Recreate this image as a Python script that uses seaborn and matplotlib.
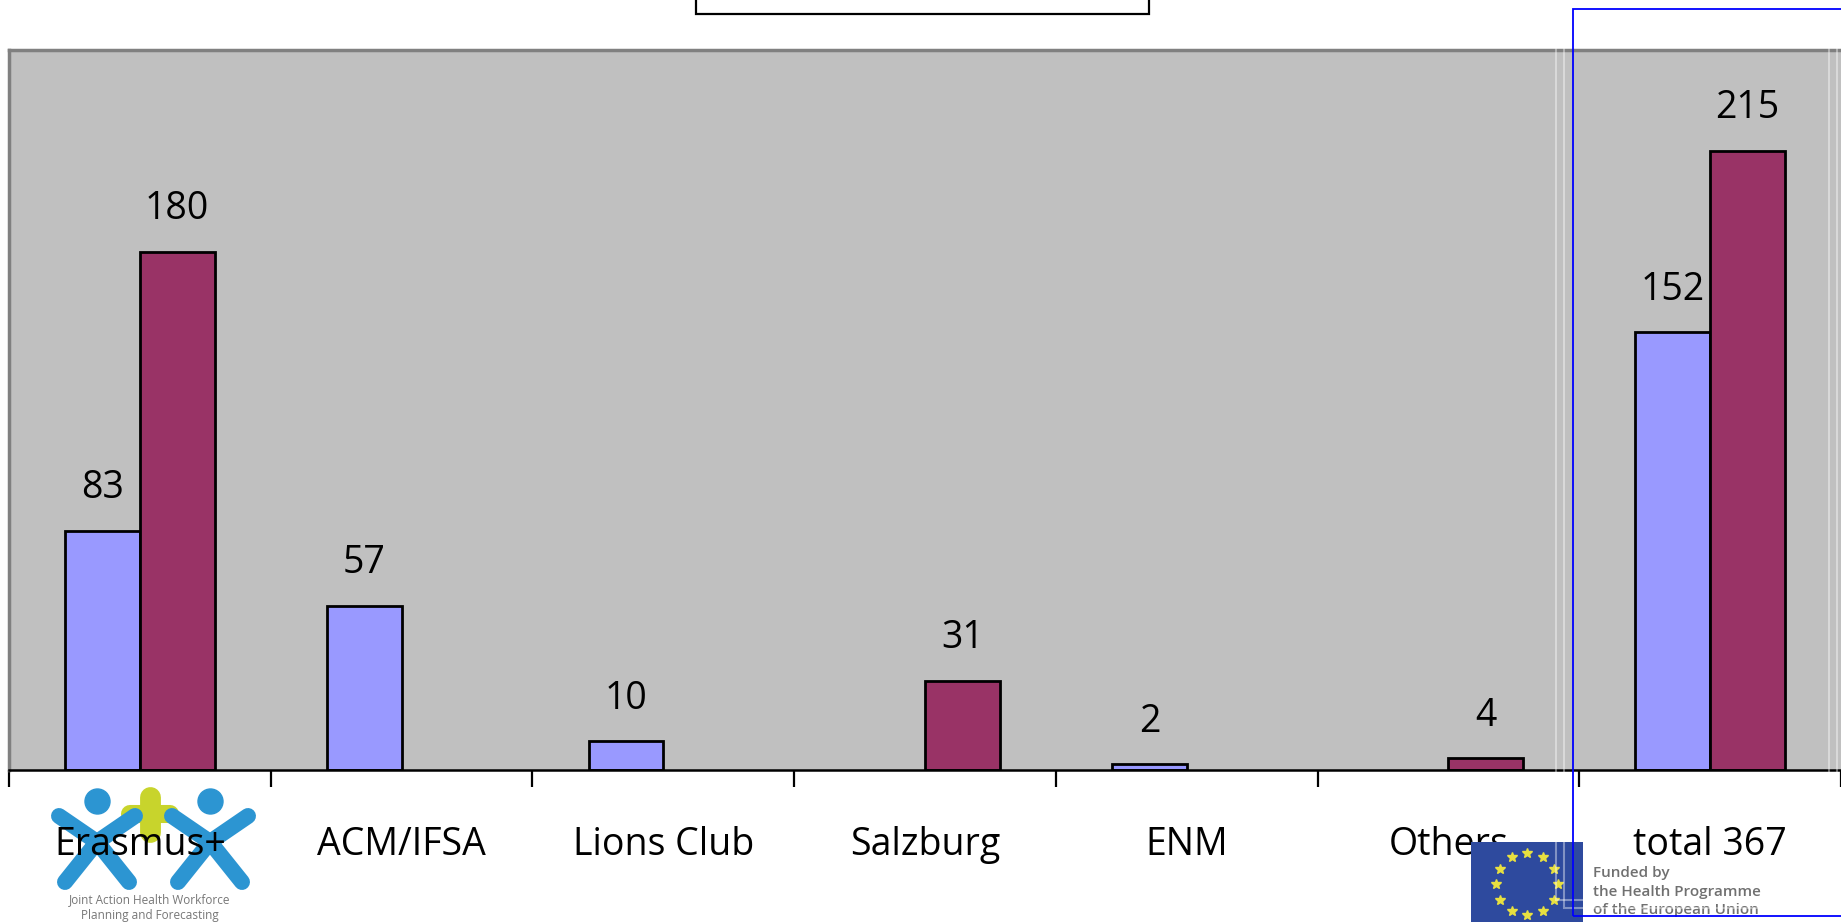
import numpy as np
import pandas as pd
import matplotlib
matplotlib.use("Agg")
import matplotlib.pyplot as plt
import seaborn as sns
from matplotlib.patches import Rectangle
from matplotlib.lines import Line2D

categories = ["Erasmus+", "ACM/IFSA", "Lions Club", "Salzburg", "ENM", "Others", "total 367"]
series_a = [83, 57, 10, 0, 2, 0, 152]
series_b = [180, 0, 0, 31, 0, 4, 215]
series_names = ["Series 1", "Series 2"]
colors = ["#9999FF", "#993366"]

df = pd.DataFrame({
    "category": categories * 2,
    "series": [series_names[0]] * len(categories) + [series_names[1]] * len(categories),
    "value": series_a + series_b,
})
# empty slots keep their place in the group, Excel style
df = df[df["value"] > 0]

sns.set_style("white")
plt.rcParams["font.family"] = ["Open Sans", "DejaVu Sans"]
plt.rcParams["text.color"] = "black"
plt.rcParams["xtick.color"] = "black"

W, H = 1841, 922
fig = plt.figure(figsize=(W / 100, H / 100), dpi=100)


def px(x, y):
    return x / W, 1 - y / H


def fig_line(pts, **kw):
    xs = [px(x, y)[0] for x, y in pts]
    ys = [px(x, y)[1] for x, y in pts]
    fig.add_artist(Line2D(xs, ys, transform=fig.transFigure, **kw))


def fig_rect(x0, y0, x1, y1, **kw):
    a, b = px(x0, y1)
    c, d = px(x1, y0)
    fig.add_artist(Rectangle((a, b), c - a, d - b, transform=fig.transFigure, **kw))


ax_left, ax_top, ax_bottom = 9, 50, 770
ax = fig.add_axes([ax_left / W, 1 - ax_bottom / H, (W - ax_left) / W, (ax_bottom - ax_top) / H])
ax.set_facecolor("#C0C0C0")

sns.barplot(data=df, x="category", y="value", hue="series", order=categories,
            hue_order=series_names, palette=colors, width=0.571, gap=0,
            edgecolor="black", linewidth=2, saturation=1, legend=False, ax=ax)

for cont in ax.containers:
    ax.bar_label(cont, fmt="%g", padding=17, fontsize=27, color="black")

ax.set_ylim(0, 250)
ax.set_xlim(-0.5, len(categories) - 0.5)
ax.set_yticks([])
ax.set_xlabel("")
ax.set_ylabel("")

# ticks on category boundaries, labels centred
ax.set_xticks(np.arange(-0.5, len(categories), 1.0))
ax.set_xticklabels([])
ax.set_xticks(np.arange(len(categories)), minor=True)
ax.set_xticklabels(categories, minor=True, fontsize=27, color="black")
ax.tick_params(axis="x", which="major", bottom=True, direction="out", length=12.5,
               width=1.6, color="black")
ax.tick_params(axis="x", which="minor", bottom=True, length=0, pad=40)

ax.spines["bottom"].set_color("black")
ax.spines["bottom"].set_linewidth(1.8)
ax.spines["top"].set_color("#808080")
ax.spines["top"].set_linewidth(2.5)
ax.spines["left"].set_color("#808080")
ax.spines["left"].set_linewidth(2.5)
ax.spines["right"].set_visible(False)

# cut-off legend box at the top
fig_rect(696, -10, 1149, 14, facecolor="white", edgecolor="black", linewidth=1.6)

# faint frames of pasted pictures on the right
fig_rect(1556, 2, 1829, 900, facecolor="none", edgecolor="white", alpha=0.4, linewidth=1.5, zorder=4)
fig_rect(1564, 2, 1837, 908, facecolor="none", edgecolor="white", alpha=0.4, linewidth=1.5, zorder=4)

# blue selection frame
fig_rect(1573, 9, 1850, 916, facecolor="none", edgecolor="#0000FF", linewidth=1.3, zorder=5)

# Joint Action logo (rough)
blue = "#2C95D2"
fig_line([(150, 797), (150, 832)], color="#C8D42C", linewidth=15, zorder=-2)
fig_line([(130, 814), (170, 814)], color="#C8D42C", linewidth=13, zorder=-2)
for cx in (97, 210):
    for end in [(cx - 38, 816), (cx + 38, 816), (cx - 32, 882), (cx + 32, 882)]:
        fig_line([(cx, 842), end], color=blue, linewidth=11.5, solid_capstyle="round", zorder=-1)
    fig_line([(cx, 801)], marker="o", markersize=18, color=blue, linestyle="none", zorder=-1)
fig.text(*px(150, 900), "Joint Action Health Workforce", fontsize=8.5, color="#777777",
         ha="center", va="center", zorder=-1)
fig.text(*px(150, 915), "Planning and Forecasting", fontsize=8.5, color="#777777",
         ha="center", va="center", zorder=-1)

# EU flag and funding note
fig_rect(1471, 842, 1583, 930, facecolor="#2E4A9E", edgecolor="none", zorder=1)
ang = np.linspace(0, 2 * np.pi, 13)[:-1]
fig_line([(1527 + 31 * np.cos(a), 884 + 31 * np.sin(a)) for a in ang], linestyle="none",
         marker="*", markersize=7, color="#E8E040", zorder=2)
for i, line in enumerate(["Funded by", "the Health Programme", "of the European Union"]):
    fig.text(*px(1593, 873 + 18.5 * i), line, fontsize=11, fontweight="semibold",
             color="#707070", ha="left", va="center", zorder=3)

fig.savefig("out.png", dpi=100)
